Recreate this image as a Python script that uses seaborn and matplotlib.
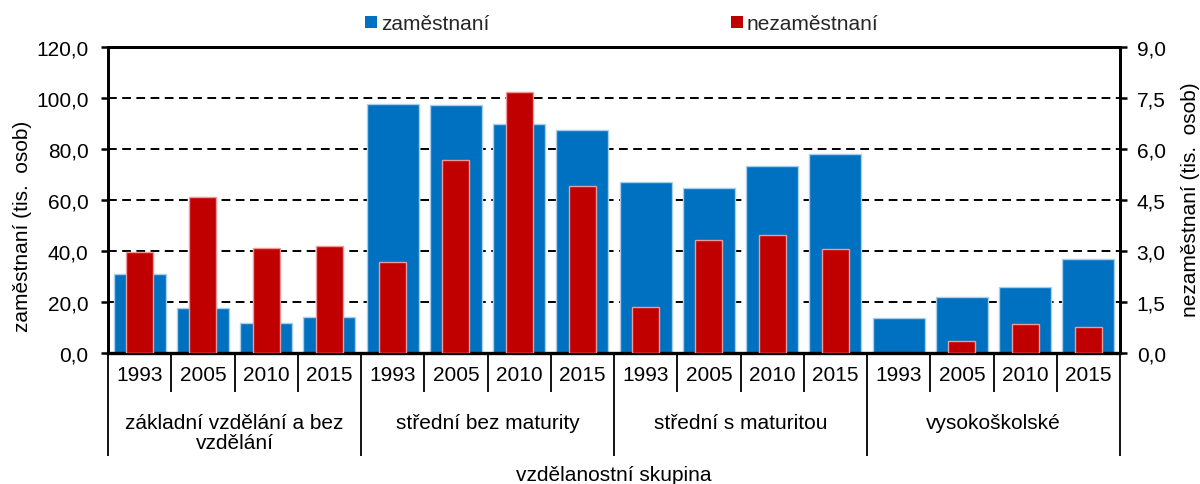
import numpy as np
import pandas as pd
import matplotlib
matplotlib.use("Agg")
import matplotlib.pyplot as plt
import seaborn as sns
from matplotlib.ticker import FuncFormatter, MultipleLocator
from matplotlib.patches import Patch

# ---------------- data ----------------
groups = ["základní vzdělání a bez\nvzdělání", "střední bez maturity",
          "střední s maturitou", "vysokoškolské"]
years = ["1993", "2005", "2010", "2015"]
zamestnani = [31.0, 17.8, 11.6, 14.2,
              97.8, 97.1, 90.0, 87.6,
              66.9, 64.6, 73.5, 78.0,
              13.9, 21.8, 26.0, 36.7]
nezamestnani = [2.98, 4.59, 3.08, 3.15,
                2.67, 5.68, 7.68, 4.92,
                1.36, 3.32, 3.48, 3.06,
                np.nan, 0.36, 0.85, 0.77]

keys = [f"{g}|{y}" for g in groups for y in years]
df = pd.DataFrame({
    "key": keys,
    "group": [g for g in groups for _ in years],
    "year": [y for _ in groups for y in years],
    "zam": zamestnani,
    "nezam": nezamestnani,
})

BLUE = "#0070C0"
RED = "#C00000"

sns.set_theme(style="white")
plt.rcParams["font.family"] = ["Liberation Sans", "DejaVu Sans"]
FS = 15

fig = plt.figure(figsize=(12, 4.85), dpi=100)
ax = fig.add_axes([108 / 1200, 1 - 354 / 485, (1120 - 108) / 1200, (354 - 48) / 485])

sns.barplot(data=df, x="key", y="zam", order=keys, color=BLUE, saturation=1,
            width=0.82, errorbar=None, edgecolor="#A9CDEB", linewidth=1, ax=ax, zorder=2)
ax2 = ax.twinx()
sns.barplot(data=df, x="key", y="nezam", order=keys, color=RED, saturation=1,
            width=0.43, errorbar=None, edgecolor="#EE9A9A", linewidth=1, ax=ax2, zorder=3)

ax.set_xlim(-0.5, len(keys) - 0.5)
ax.set_ylim(0, 120)
ax2.set_ylim(0, 9)
ax.yaxis.set_major_locator(MultipleLocator(20))
ax2.yaxis.set_major_locator(MultipleLocator(1.5))
fmt = FuncFormatter(lambda v, p: f"{v:.1f}".replace(".", ","))
ax.yaxis.set_major_formatter(fmt)
ax2.yaxis.set_major_formatter(fmt)

ax.set_axisbelow(True)
ax.yaxis.grid(True, color="black", linestyle=(0, (4.5, 2.8)), linewidth=1.4)
ax.xaxis.grid(False)

for a in (ax, ax2):
    for s in a.spines.values():
        s.set_color("black")
        s.set_linewidth(2.0)
    a.set_xlabel("")
    a.set_ylabel("")
ax.spines["bottom"].set_linewidth(2.4)

ax.tick_params(axis="y", which="major", direction="out", length=5, width=1.8,
               colors="black", labelsize=FS, pad=9, left=True)
ax2.tick_params(axis="y", which="major", direction="out", length=5, width=1.8,
                colors="black", labelsize=FS, pad=7, right=True)

ax.set_xticks(range(len(keys)))
ax.set_xticklabels(df["year"], fontsize=FS, color="black")
ax.tick_params(axis="x", length=0, pad=9)

# hierarchical separators
tr = ax.get_xaxis_transform()
ax_h = 354 - 48
for i in range(len(keys) + 1):
    x = i - 0.5
    depth = (457 - 354) / ax_h if i % len(years) == 0 else (393 - 354) / ax_h
    ax.plot([x, x], [0, -depth], transform=tr, color="black", lw=1.3,
            clip_on=False, solid_capstyle="butt")

for gi, g in enumerate(groups):
    cx = gi * len(years) + (len(years) - 1) / 2
    ax.text(cx, -(414 - 354) / ax_h, g, transform=tr, ha="center", va="top",
            fontsize=FS, linespacing=1.08, color="black")

ax.text(0.5, -(476 - 354) / ax_h, "vzdělanostní skupina",
        transform=ax.transAxes, ha="center", va="center", fontsize=FS, color="black")

fig.text(23 / 1200, 1 - 226 / 485, "zaměstnaní (tis.  osob)", rotation=90,
         ha="center", va="center", fontsize=FS, color="black")
fig.text(1190 / 1200, 1 - 200 / 485, "nezaměstnaní (tis.  osob)", rotation=90,
         ha="center", va="center", fontsize=FS, color="black")

handles = [Patch(facecolor=BLUE, edgecolor="none"), Patch(facecolor=RED, edgecolor="none")]
fig.legend(handles, ["zaměstnaní", "nezaměstnaní"], loc="center",
           bbox_to_anchor=(622 / 1200, 1 - 25 / 485), ncol=2, frameon=False,
           fontsize=FS, handlelength=0.55, handleheight=0.55, handletextpad=0.2,
           columnspacing=11.6, borderpad=0)

fig.savefig("out.png", dpi=100)
